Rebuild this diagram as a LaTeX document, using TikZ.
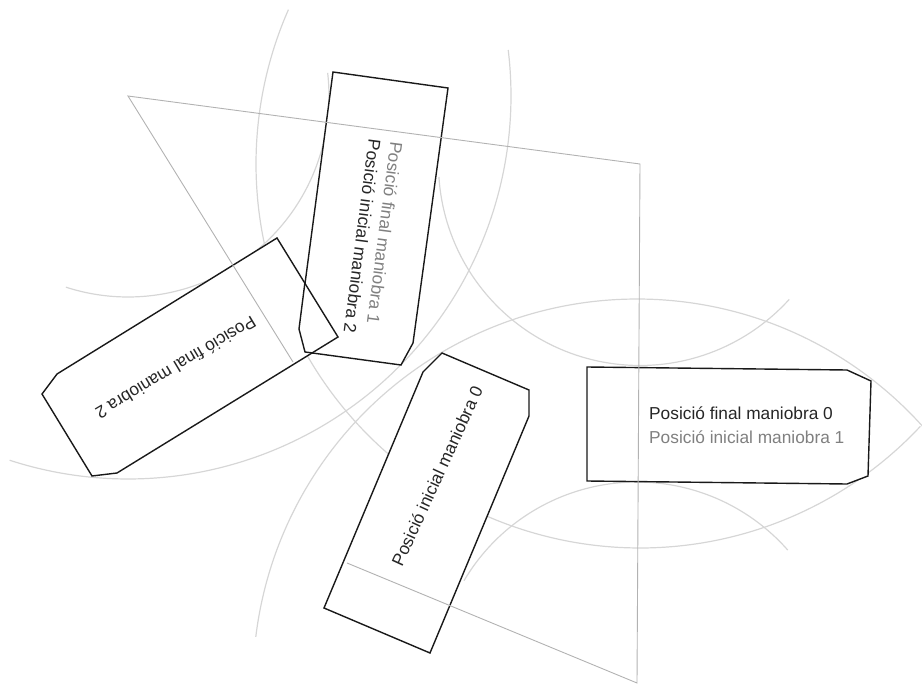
\documentclass[tikz,border=0pt]{standalone}
\usepackage{fontspec}
\setmainfont{Liberation Sans}
\tikzset{
  arcline/.style={draw=black!16,line width=1.2pt,samples=120,smooth},
  guide/.style={draw=black!30,line width=0.9pt,line join=miter},
  plate/.style={draw=black!90,fill=white,line width=1.4pt,line join=miter},
  outline/.style={draw=black!90,line width=1.4pt,line join=miter},
  darklabel/.style={inner sep=0pt,text=black!85,font=\fontsize{17.3}{20}\selectfont},
  palelabel/.style={inner sep=0pt,text=black!50,font=\fontsize{17.3}{20}\selectfont}
}
\begin{document}
\begin{tikzpicture}[x=1pt,y=-1pt]
\useasboundingbox (0,0) rectangle (922,685);
% arcs centred on the corners of the triangle
\draw[arcline] plot[domain=43.1:203.7] ({640+384*cos(\x)},{164+384*sin(\x)});
\draw[arcline] plot[domain=186.9:318.2] ({637+384*cos(\x)},{683+384*sin(\x)});
\draw[arcline] plot[domain=-6.9:108] ({128+383*cos(\x)},{96+383*sin(\x)});
\draw[arcline] plot[domain=-6.6:108] ({128+201*cos(\x)},{96+201*sin(\x)});
\draw[arcline] plot[domain=42.2:176.3] ({640+201.5*cos(\x)},{164+201.5*sin(\x)});
\draw[arcline] plot[domain=210.6:318.6] ({637+201*cos(\x)},{683+201*sin(\x)});
% plates
\draw[plate] (333,72) -- (448,88) -- (413,343) -- (401,365) -- (305,352) -- (299,329) -- cycle;
\draw[plate] (277,238) -- (338,337) -- (117,473) -- (92,476) -- (42,394) -- (57,374) -- cycle;
\draw[plate] (442,353) -- (529,390) -- (529,416) -- (430,653) -- (324,608) -- (423,372) -- cycle;
\draw[plate] (587,367) -- (847,370) -- (871,381) -- (868,476) -- (847,484) -- (587,481) -- cycle;
% the first plate's outline shows through the second
\draw[outline] (305,282) -- (299,329) -- (305,352) -- (313,353);
% guide lines
\coordinate (t0) at (128,96);
\coordinate (t1) at (640,164);
\coordinate (t2) at (637,683);
\coordinate (t3) at (347,563);
\coordinate (t4) at (293,362);
\draw[guide] (t3) -- (t2) -- (t1) -- (t0) -- (t4);
% texts
\node[darklabel,anchor=west] (f0) at (649,413) {Posició final maniobra 0};
\node[palelabel,anchor=west] (i1) at (649,437) {Posició inicial maniobra 1};
\node[darklabel,rotate=65.4] (i0) at (437,476) {Posició inicial maniobra 0};
\node[darklabel,rotate=211] (f2) at (176,368) {Posició final maniobra 2};
\node[darklabel,rotate=-97.4] (i2) at (362.5,236.5) {Posició inicial maniobra 2};
\node[palelabel,rotate=-97.4] (f1) at (385,233) {Posició final maniobra 1};
\end{tikzpicture}
\end{document}
